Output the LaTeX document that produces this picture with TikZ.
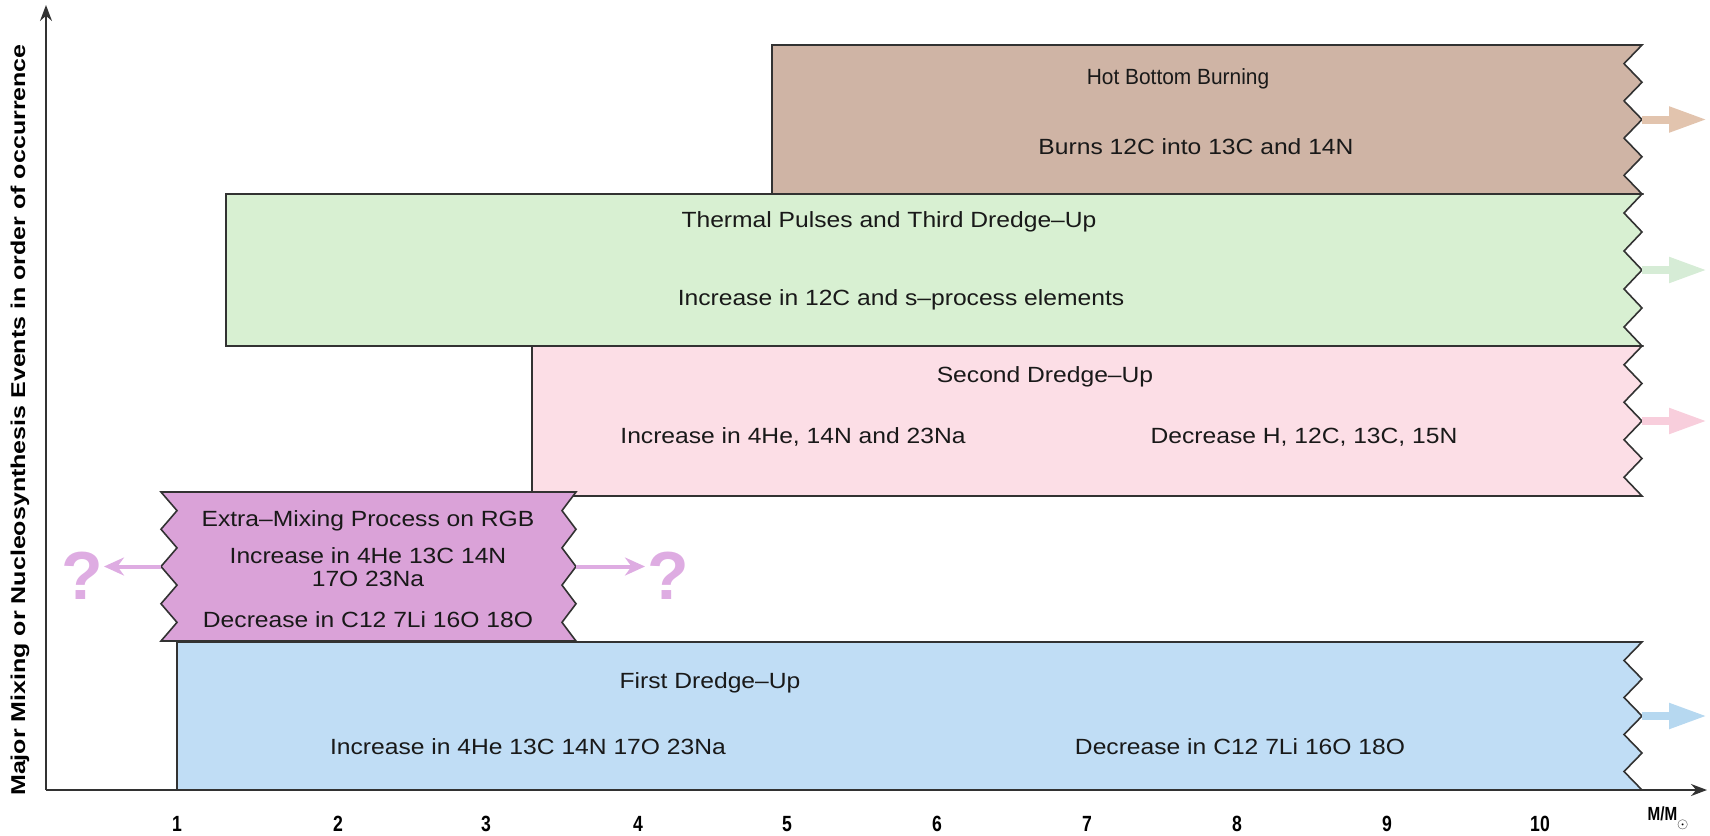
\documentclass[tikz,border=0pt]{standalone}
\usepackage{graphicx}
\usepackage{fontspec}
\setmainfont{Liberation Sans}
\usetikzlibrary{arrows.meta}
\definecolor{brownfill}{RGB}{207,180,165}
\definecolor{brownarrow}{RGB}{226,196,174}
\definecolor{greenfill}{RGB}{216,240,210}
\definecolor{greenarrow}{RGB}{214,236,214}
\definecolor{pinkfill}{RGB}{252,222,230}
\definecolor{pinkarrow}{RGB}{248,206,220}
\definecolor{purplefill}{RGB}{218,162,216}
\definecolor{purplearrow}{RGB}{222,172,226}
\definecolor{bluefill}{RGB}{192,221,245}
\definecolor{bluearrow}{RGB}{182,216,240}
\definecolor{edgegray}{RGB}{50,50,50}
\newcommand{\wtxt}[1]{\scalebox{1.12}[1]{#1}}
\newcommand{\ntxt}[1]{\scalebox{0.8}[1]{#1}}
\begin{document}
\begin{tikzpicture}[x=1pt,y=-1pt,
  boxline/.style={draw=edgegray,line width=1.6pt,line join=miter},
  txt/.style={inner sep=0pt,font=\fontsize{22}{25}\selectfont,text=black!90},
  ticklab/.style={inner sep=0pt,font=\bfseries\fontsize{22}{25}\selectfont},
  bigarrow/.style={line width=8pt,-{Triangle[length=38pt,width=24pt]}},
  smallarrow/.style={line width=4pt,color=purplearrow,-{Stealth[length=20pt,width=18pt]}},
  qmark/.style={inner sep=0pt,text=purplearrow,font=\bfseries\fontsize{68}{70}\selectfont},
  axisline/.style={draw=edgegray,line width=1.8pt}]
\useasboundingbox (0,0) rectangle (1710,835);

% axes
\coordinate (origin) at (46,790);
\coordinate (ytip) at (46,5);
\coordinate (xtip) at (1707,790);
\draw[axisline,-{Stealth[length=16pt,width=12pt]}] (origin) -- (ytip);
\draw[axisline,-{Stealth[length=16pt,width=12pt]}] (origin) -- (xtip);

% Hot Bottom Burning (brown)
\draw[boxline,fill=brownfill] (772,45) -- (1642,45)
  \foreach \k in {1,...,4} { -- (1624,{45+(2*\k-1)*149/8}) -- (1642,{45+2*\k*149/8}) }
  -- (772,194) -- cycle;
% Thermal pulses (green)
\draw[boxline,fill=greenfill] (226,194) -- (1642,194)
  \foreach \k in {1,...,4} { -- (1624,{194+(2*\k-1)*152/8}) -- (1642,{194+2*\k*152/8}) }
  -- (226,346) -- cycle;
% Second dredge-up (pink)
\draw[boxline,fill=pinkfill] (532,346) -- (1642,346)
  \foreach \k in {1,...,4} { -- (1624,{346+(2*\k-1)*150/8}) -- (1642,{346+2*\k*150/8}) }
  -- (532,496) -- cycle;
% Extra mixing (purple)
\draw[boxline,fill=purplefill] (161,492) -- (576,492)
  \foreach \k in {1,...,4} { -- (562,{492+(2*\k-1)*149/8}) -- (576,{492+2*\k*149/8}) }
  -- (161,641)
  \foreach \k in {1,...,4} { -- (177,{641-(2*\k-1)*149/8}) -- (161,{641-2*\k*149/8}) }
  -- cycle;
% First dredge-up (blue)
\draw[boxline,fill=bluefill] (177,642) -- (1642,642)
  \foreach \k in {1,...,4} { -- (1624,{642+(2*\k-1)*148/8}) -- (1642,{642+2*\k*148/8}) }
  -- (177,790) -- cycle;

% right arrows
\coordinate (hbbA) at (1642,119.5);  \coordinate (hbbB) at (1707,119.5);
\coordinate (tpA) at (1642,270);     \coordinate (tpB) at (1707,270);
\coordinate (sdA) at (1642,421);     \coordinate (sdB) at (1707,421);
\coordinate (fdA) at (1642,716);     \coordinate (fdB) at (1707,716);
\draw[bigarrow,color=brownarrow] (hbbA) -- (hbbB);
\draw[bigarrow,color=greenarrow] (tpA) -- (tpB);
\draw[bigarrow,color=pinkarrow] (sdA) -- (sdB);
\draw[bigarrow,color=bluearrow] (fdA) -- (fdB);

% purple arrows and question marks
\coordinate (emL) at (161,566.5);
\coordinate (emR) at (576,566.5);
\coordinate (emLt) at (104,566.5);
\coordinate (emRt) at (645,566.5);
\draw[smallarrow] (emL) -- (emLt);
\draw[smallarrow] (emR) -- (emRt);
\node[qmark] (qL) at (82,576) {?};
\node[qmark] (qR) at (668,576) {?};

% texts
\node[txt] (hbb1) at (1178,79) {\scalebox{0.95}[1]{Hot Bottom Burning}};
\node[txt] (hbb2) at (1196,147) {\wtxt{Burns 12C into 13C and 14N}};
\node[txt] (tp1) at (889,222) {\wtxt{Thermal Pulses and Third Dredge--Up}};
\node[txt] (tp2) at (901,300) {\wtxt{Increase in 12C and s--process elements}};
\node[txt] (sd1) at (1045,377) {\wtxt{Second Dredge--Up}};
\node[txt] (sd2) at (793,437) {\wtxt{Increase in 4He, 14N and 23Na}};
\node[txt] (sd3) at (1304,437) {\wtxt{Decrease H, 12C, 13C, 15N}};
\node[txt] (em1) at (368,521) {\wtxt{Extra--Mixing Process on RGB}};
\node[txt] (em2) at (368,556) {\wtxt{Increase in 4He 13C 14N}};
\node[txt] (em3) at (368,579) {\wtxt{17O 23Na}};
\node[txt] (em4) at (368,620) {\wtxt{Decrease in C12 7Li 16O 18O}};
\node[txt] (fd1) at (710,683) {\wtxt{First Dredge--Up}};
\node[txt] (fd2) at (528,747) {\wtxt{Increase in 4He 13C 14N 17O 23Na}};
\node[txt] (fd3) at (1240,747) {\wtxt{Decrease in C12 7Li 16O 18O}};

% y label
\node[inner sep=0pt,rotate=90,font=\bfseries\fontsize{20}{23}\selectfont] (ylab) at (20,420)
  {\scalebox{1.25}[1]{Major Mixing or Nucleosynthesis Events in order of occurrence}};

% tick labels
\node[ticklab] (t1) at (177,824) {\ntxt{1}};
\node[ticklab] (t2) at (338,824) {\ntxt{2}};
\node[ticklab] (t3) at (486,824) {\ntxt{3}};
\node[ticklab] (t4) at (638,824) {\ntxt{4}};
\node[ticklab] (t5) at (787,824) {\ntxt{5}};
\node[ticklab] (t6) at (937,824) {\ntxt{6}};
\node[ticklab] (t7) at (1087,824) {\ntxt{7}};
\node[ticklab] (t8) at (1237,824) {\ntxt{8}};
\node[ticklab] (t9) at (1387,824) {\ntxt{9}};
\node[ticklab] (t10) at (1540,824) {\ntxt{10}};
\node[ticklab,font=\bfseries\fontsize{19}{22}\selectfont] (tm) at (1668,818) {\ntxt{M/M}\raisebox{-8pt}{\fontsize{15}{15}\selectfont$\odot$}};
\end{tikzpicture}
\end{document}
